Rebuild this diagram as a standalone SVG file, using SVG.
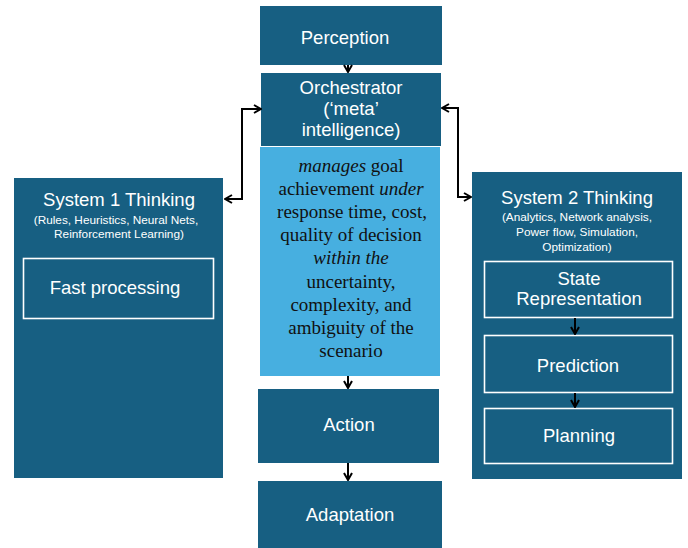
<svg xmlns="http://www.w3.org/2000/svg" width="688" height="548" viewBox="0 0 688 548">
<defs>
<marker id="ah" viewBox="0 0 10 10" refX="9" refY="5" markerWidth="10" markerHeight="10" markerUnits="userSpaceOnUse" orient="auto-start-reverse">
<path d="M2,1 L9,5 L2,9" fill="none" stroke="#000" stroke-width="2"/>
</marker>
<style>
.dk{fill:#175F82}
.lt{fill:#47AFE0}
.inner{fill:none;stroke:#fff;stroke-width:1.6}
.t{font-family:"Liberation Sans",Arial,sans-serif;fill:#fff;text-anchor:middle}
.big{font-size:18.5px}
.sm{font-size:11.8px}
.ser{font-family:"Liberation Serif","Times New Roman",serif;font-size:19px;fill:#111;text-anchor:middle}
.con{fill:none;stroke:#000;stroke-width:2}
</style>
</defs>
<rect width="688" height="548" fill="#fff"/>

<g id="perception">
<rect class="dk" x="260" y="6" width="182" height="59"/>
<text class="t big" x="345" y="44">Perception</text>
</g>

<g id="orchestrator">
<rect class="dk" x="261" y="73" width="180" height="73"/>
<text class="t big" x="351" y="94">Orchestrator</text>
<text class="t big" x="351" y="115">(‘meta’</text>
<text class="t big" x="351" y="136">intelligence)</text>
</g>

<g id="manages">
<rect class="lt" x="260" y="147" width="180" height="229"/>
<text class="ser" x="351" y="172"><tspan font-style="italic">manages</tspan> goal</text>
<text class="ser" x="351" y="195">achievement <tspan font-style="italic">under</tspan></text>
<text class="ser" x="352" y="218">response time, cost,</text>
<text class="ser" x="351" y="241">quality of decision</text>
<text class="ser" x="351" y="264" font-style="italic">within the</text>
<text class="ser" x="351" y="288">uncertainty,</text>
<text class="ser" x="351" y="311">complexity, and</text>
<text class="ser" x="351" y="334">ambiguity of the</text>
<text class="ser" x="351" y="357">scenario</text>
</g>

<g id="action">
<rect class="dk" x="258" y="389" width="181" height="74"/>
<text class="t big" x="349" y="431">Action</text>
</g>

<g id="adaptation">
<rect class="dk" x="258" y="481" width="184" height="67"/>
<text class="t big" x="350" y="521">Adaptation</text>
</g>

<g id="system1">
<rect class="dk" x="14" y="178" width="209" height="300"/>
<text class="t big" x="119" y="206">System 1 Thinking</text>
<text class="t sm" x="116" y="224">(Rules, Heuristics, Neural Nets,</text>
<text class="t sm" x="119" y="238">Reinforcement Learning)</text>
<rect class="inner" x="23.5" y="258.5" width="190" height="60"/>
<text class="t big" x="115" y="294">Fast processing</text>
</g>

<g id="system2">
<rect class="dk" x="472" y="172" width="210" height="307"/>
<text class="t big" x="577" y="204">System 2 Thinking</text>
<text class="t sm" x="577" y="221">(Analytics, Network analysis,</text>
<text class="t sm" x="577" y="236">Power flow, Simulation,</text>
<text class="t sm" x="577" y="251">Optimization)</text>
</g>

<g id="state">
<rect class="inner" x="484.5" y="261.5" width="188" height="56"/>
<text class="t big" x="579" y="285">State</text>
<text class="t big" x="579" y="305">Representation</text>
</g>

<g id="prediction">
<rect class="inner" x="484.5" y="335.5" width="188" height="57"/>
<text class="t big" x="578" y="372">Prediction</text>
</g>

<g id="planning">
<rect class="inner" x="484.5" y="408.5" width="188" height="55"/>
<text class="t big" x="579" y="442">Planning</text>
</g>

<g id="connectors">
<path class="con" d="M348,65 V72" marker-end="url(#ah)"/>
<path class="con" d="M348,376 V388" marker-end="url(#ah)"/>
<path class="con" d="M348,463 V480" marker-end="url(#ah)"/>
<path class="con" d="M575,318 V334" marker-end="url(#ah)"/>
<path class="con" d="M575,393 V407" marker-end="url(#ah)"/>
<path class="con" d="M261,109 H242 V199 H225" marker-start="url(#ah)" marker-end="url(#ah)"/>
<path class="con" d="M442,108 H458 V197 H471" marker-start="url(#ah)" marker-end="url(#ah)"/>
</g>
</svg>
